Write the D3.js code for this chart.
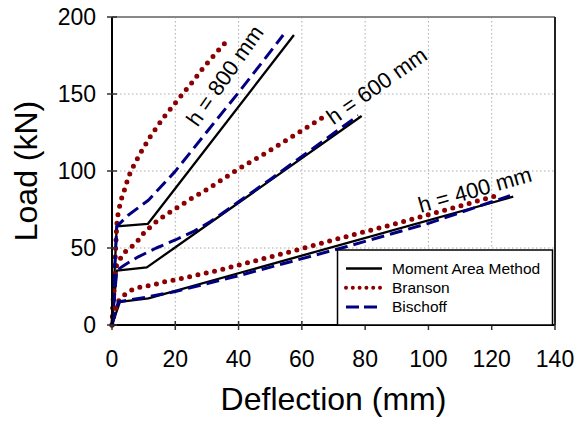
<!doctype html>
<html lang="en">
  <head>
    <meta charset="utf-8">
    <title>load deflection</title>
    <style>
      body { margin: 0; background: #fff; }
      text { font-family: Arial, "Liberation Sans", sans-serif; fill: #000; }
      .grid line { stroke: #aaa; stroke-width: 1; stroke-dasharray: 1.5,2.5; }
      .tick-label { font-size: 23px; }
      .axis-title { font-size: 32px; }
      .h-label { font-size: 22px; }
      .legend text { font-size: 15.5px; }
    </style>
  </head>
  <body>
    <div class="chart"></div>
  <script src="https://d3js.org/d3.v7.min.js"></script>
  <script>
    // deflection (mm), load (kN)
    const mam800 = [[0, 0], [1.5, 64], [11.3, 65.6], [57.5, 188.3]];
    const mam600 = [[0, 0], [1.5, 35.3], [11, 37.4], [78.9, 135.7]];
    const mam400 = [[0, 0], [2.5, 15], [11.5, 17.3], [126.8, 83.3]];

    const branson800 = [[0, 0], [1.5, 65], [2, 73.6], [3, 82], [4.1, 88.7], [5.2, 96.3], [6.7, 102.8],
      [8.8, 111], [12, 122], [16, 134], [21.5, 148], [25.2, 157.3], [28.7, 166.7], [33, 177], [36.8, 185.5]];
    const branson600 = [[0, 0], [1, 35], [1.5, 39], [3.6, 46.5], [6.2, 50.8], [8.3, 55.2], [10.4, 60.6],
      [14.6, 68.2], [19.4, 74.7], [25, 82], [30, 88], [39.4, 100.6], [48, 111], [57.8, 123.4], [66.8, 135]];
    const branson400 = [[0, 0], [0.9, 9], [1.5, 14], [3.1, 18.4], [6.2, 22.7], [9.4, 24.9], [13, 26],
      [16.7, 28.1], [21.5, 30], [34, 35.7], [58.4, 48.7], [69, 54.7], [90, 66], [106, 75], [121.6, 84]];

    const bischoff800 = [[0, 0], [1.5, 64], [5.2, 71.4], [11.5, 81], [19.9, 99.6], [30, 125.5],
      [40, 151], [48, 172], [54.1, 188.3]];
    const bischoff600 = [[0, 0], [1.5, 35.5], [4, 39], [8.3, 44.3], [14, 50], [20, 55.2], [26, 61],
      [31, 67], [40, 80], [50, 94.5], [77.8, 136]];
    const bischoff400 = [[0, 0], [2, 15], [6, 16.5], [11.5, 18.3], [20, 21.7], [40, 32], [74, 50.8],
      [100, 66], [125.8, 84]];

    const xTicks = [0, 20, 40, 60, 80, 100, 120, 140];
    const yTicks = [0, 50, 100, 150, 200];
    const seriesNames = ['Moment Area Method', 'Branson', 'Bischoff'];
    const depthLabels = ['800', '600', '400'];

    const W = 577, H = 421;
    const plot = {left: 112, right: 555, top: 17, bottom: 325};

    const x = d3.scaleLinear().domain([0, 140]).range([plot.left, plot.right]);
    const y = d3.scaleLinear().domain([0, 200]).range([plot.bottom, plot.top]);

    const styles = {
      'Moment Area Method': {stroke: '#000', width: 2.3, dash: null, cap: 'butt'},
      'Branson': {stroke: '#8b0000', width: 5, dash: '0,8.5', cap: 'round'},
      'Bischoff': {stroke: '#000080', width: 3, dash: '13,6', cap: 'butt'}
    };

    const svg = d3.select('.chart').append('svg')
        .attr('width', W)
        .attr('height', H);

    // grid
    const grid = svg.append('g').attr('class', 'grid');
    grid.selectAll('.gx').data(xTicks.slice(1, -1)).enter().append('line')
        .attr('x1', d => x(d)).attr('x2', d => x(d))
        .attr('y1', plot.top).attr('y2', plot.bottom);
    grid.selectAll('.gy').data(yTicks.slice(1, -1)).enter().append('line')
        .attr('x1', plot.left).attr('x2', plot.right)
        .attr('y1', d => y(d)).attr('y2', d => y(d));

    // frame
    svg.append('line').attr('x1', plot.left).attr('x2', plot.right)
        .attr('y1', plot.top).attr('y2', plot.top)
        .attr('stroke', '#888').attr('stroke-width', 2);
    svg.append('line').attr('x1', plot.right).attr('x2', plot.right)
        .attr('y1', plot.top).attr('y2', plot.bottom)
        .attr('stroke', '#222').attr('stroke-width', 2);

    const line = d3.line().x(d => x(d[0])).y(d => y(d[1]));

    const curves = [
      ['Moment Area Method', [mam800, mam600, mam400]],
      ['Branson', [branson800, branson600, branson400]],
      ['Bischoff', [bischoff800, bischoff600, bischoff400]]
    ];

    const curvesG = svg.append('g');
    curves.forEach(([name, sets]) => {
      const s = styles[name];
      sets.forEach(data => {
        curvesG.append('path')
            .datum(data)
            .attr('d', line)
            .attr('fill', 'none')
            .attr('stroke', s.stroke)
            .attr('stroke-width', s.width)
            .attr('stroke-dasharray', s.dash)
            .attr('stroke-linecap', s.cap)
            .attr('stroke-linejoin', 'round');
      });
    });

    // axes
    const xAxis = svg.append('g');
    xAxis.append('line').attr('x1', plot.left).attr('x2', plot.right)
        .attr('y1', plot.bottom).attr('y2', plot.bottom)
        .attr('stroke', '#000').attr('stroke-width', 2);
    xAxis.selectAll('.xt').data(xTicks).enter().append('line')
        .attr('x1', d => x(d)).attr('x2', d => x(d))
        .attr('y1', plot.bottom - 4).attr('y2', plot.bottom + 5)
        .attr('stroke', '#333').attr('stroke-width', 1.5);
    xAxis.selectAll('.xl').data(xTicks).enter().append('text')
        .attr('class', 'tick-label')
        .attr('x', d => x(d))
        .attr('y', 367)
        .attr('text-anchor', 'middle')
        .text(d => d);

    const yAxis = svg.append('g');
    yAxis.append('line').attr('x1', plot.left).attr('x2', plot.left)
        .attr('y1', plot.top).attr('y2', plot.bottom)
        .attr('stroke', '#000').attr('stroke-width', 2);
    yAxis.selectAll('.yt').data(yTicks).enter().append('line')
        .attr('x1', plot.left - 5).attr('x2', plot.left + 5)
        .attr('y1', d => y(d)).attr('y2', d => y(d))
        .attr('stroke', '#333').attr('stroke-width', 1.5);
    yAxis.selectAll('.yl').data(yTicks).enter().append('text')
        .attr('class', 'tick-label')
        .attr('x', 96)
        .attr('y', d => y(d) + 8)
        .attr('text-anchor', 'end')
        .text(d => d);

    svg.append('text')
        .attr('class', 'axis-title')
        .attr('x', (plot.left + plot.right) / 2)
        .attr('y', 410)
        .attr('text-anchor', 'middle')
        .text('Deflection (mm)');

    svg.append('text')
        .attr('class', 'axis-title')
        .attr('transform', `translate(37,${(plot.top + plot.bottom) / 2}) rotate(-90)`)
        .attr('text-anchor', 'middle')
        .text('Load (kN)');

    // h labels
    const labelPos = [
      {cx: 231, cy: 80, angle: -55},
      {cx: 381, cy: 92, angle: -35},
      {cx: 477, cy: 197, angle: -16}
    ];
    depthLabels.forEach((lbl, i) => {
      const p = labelPos[i];
      svg.append('text')
          .attr('class', 'h-label')
          .attr('text-anchor', 'middle')
          .attr('transform', `translate(${p.cx},${p.cy}) rotate(${p.angle})`)
          .text(`h = ${lbl} mm`);
    });

    // legend
    const lg = svg.append('g').attr('class', 'legend');
    lg.append('rect')
        .attr('x', 337.5).attr('y', 250)
        .attr('width', 215).attr('height', 75)
        .attr('fill', '#fff')
        .attr('stroke', '#000').attr('stroke-width', 1.5);
    seriesNames.forEach((name, i) => {
      const s = styles[name];
      const ry = 268.5 + i * 19.2;
      lg.append('line')
          .attr('x1', 346).attr('x2', 382)
          .attr('y1', ry).attr('y2', ry)
          .attr('stroke', s.stroke)
          .attr('stroke-width', name === 'Branson' ? 4 : s.width)
          .attr('stroke-dasharray', name === 'Branson' ? '0,6.8' : (name === 'Bischoff' ? '13,5' : null))
          .attr('stroke-linecap', s.cap);
      lg.append('text')
          .attr('x', 392)
          .attr('y', ry + 5.5)
          .text(name);
    });
  </script>
  </body>
</html>
